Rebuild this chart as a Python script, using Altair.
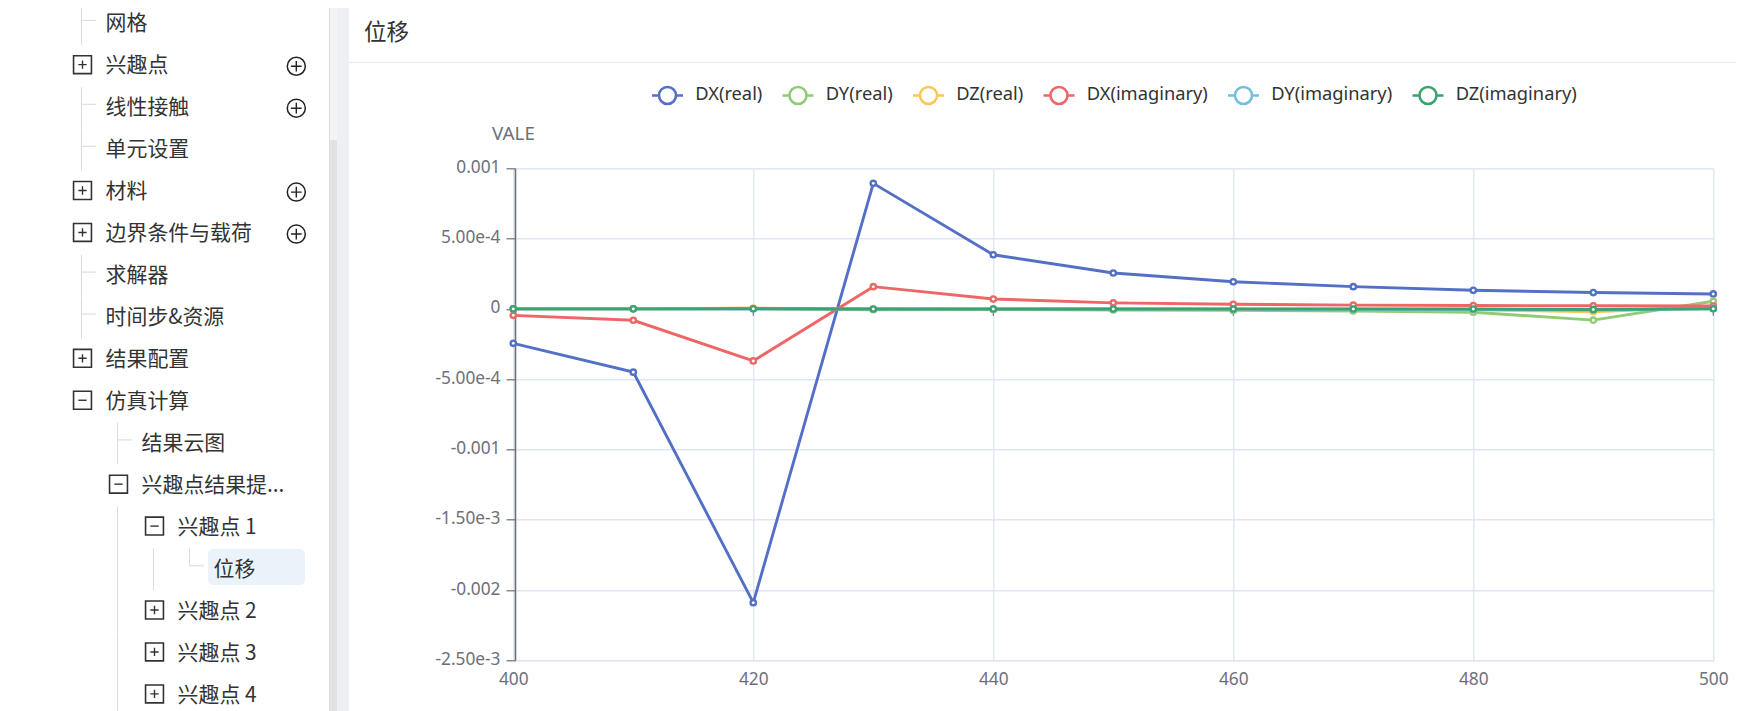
import altair as alt
import pandas as pd

# ---- chart values
freq = [400, 410, 420, 430, 440, 450, 460, 470, 480, 490, 500]
dx_real = [-2.45e-4, -4.5e-4, -2.09e-3, 8.93e-4, 3.85e-4, 2.55e-4, 1.93e-4, 1.58e-4, 1.32e-4, 1.16e-4, 1.06e-4]
dy_real = [0, 0, 2e-6, -6e-6, -5e-6, -8e-6, -1.1e-5, -1.5e-5, -2.4e-5, -8e-5, 5.4e-5]
dz_real = [0, 0, 6e-6, -3e-6, -2e-6, -2e-6, -3e-6, -4e-6, -6e-6, -2e-5, 1.5e-5]
dx_imag = [-4.6e-5, -8.1e-5, -3.7e-4, 1.58e-4, 7e-5, 4.3e-5, 3.3e-5, 2.7e-5, 2.4e-5, 2.2e-5, 2e-5]
dy_imag = [0, 0, 1e-6, -1e-6, -1e-6, -1e-6, -2e-6, -3e-6, -4e-6, -1e-5, 3e-6]
dz_imag = [0, 0, 1e-6, -1e-6, -1e-6, -1e-6, -1e-6, -1e-6, -1e-6, -4e-6, 1e-6]
series_names = ["DX(real)", "DY(real)", "DZ(real)", "DX(imaginary)", "DY(imaginary)", "DZ(imaginary)"]
series_values = [dx_real, dy_real, dz_real, dx_imag, dy_imag, dz_imag]
series_colors = ["#5470c6", "#91cc75", "#fac858", "#ee6666", "#73c0de", "#3ba272"]
x_ticks = [400, 420, 440, 460, 480, 500]
y_ticks = [0.001, 5e-4, 0, -5e-4, -0.001, -1.5e-3, -0.002, -2.5e-3]
y_labels = ["0.001", "5.00e-4", "0", "-5.00e-4", "-0.001", "-1.50e-3", "-0.002", "-2.50e-3"]

# ---- tree panel content
tree_labels = ["网格", "兴趣点", "线性接触", "单元设置", "材料", "边界条件与载荷", "求解器", "时间步&资源", "结果配置",
               "仿真计算", "结果云图", "兴趣点结果提...", "兴趣点 1", "位移", "兴趣点 2", "兴趣点 3", "兴趣点 4"]
tree_levels = [0, 0, 0, 0, 0, 0, 0, 0, 0, 0, 1, 1, 2, 3, 2, 2, 2]
plus_rows, plus_levels = [1, 4, 5, 8, 14, 15, 16], [0, 0, 0, 0, 2, 2, 2]
minus_rows, minus_levels = [9, 11, 12], [0, 1, 2]
add_rows = [1, 2, 4, 5]
guide_rows = [0, 2, 3, 6, 7, 10, 12, 13, 14, 15, 16, 13]
guide_levels = [0, 0, 0, 0, 0, 1, 1, 1, 1, 1, 1, 2]
branch_rows = [0, 2, 3, 6, 7, 10, 13]
branch_levels = [0, 0, 0, 0, 0, 1, 3]

# ---- layout
X0, Y0 = 513.3, 168.3
W, H = 1200, 492
ROW = "(22.7 + 41.95 * datum.row - %s)" % Y0

PLUS = "M-0.5,0H0.5M0,-0.5V0.5"
MINUS = "M-0.5,0H0.5"
RING = "M-1,0H-0.548M0.548,0H1M0.548,0A0.548,0.548 0 1 1 -0.548,0A0.548,0.548 0 1 1 0.548,0"

def tree(rows, levels, base):
    return (alt.Chart(pd.DataFrame({"row": rows, "level": levels}))
            .transform_calculate(py=ROW, px="%s + 36 * datum.level - %s" % (base, X0)))

PX = alt.X("px:Q", scale=None)
PY = alt.Y("py:Q", scale=None)

def band(x1, x2, y1, y2, color):
    return alt.Chart(pd.DataFrame({"k": [0]})).mark_rect(color=color).encode(
        x=alt.value(x1 - X0), x2=alt.value(x2 - X0), y=alt.value(y1 - Y0), y2=alt.value(y2 - Y0))

layers = [
    band(337, 349, 0, 711, "#eeeff3"),
    band(330, 337, 0, 140, "#f4f4f6"),
    band(330, 337, 140, 711, "#e2e2e2"),
    band(329, 330, 0, 711, "#dcdcdc"),
    band(0, 1744, 0, 2, "#eeeff3"),
    band(349, 1744, 62, 63, "#e9e9ee"),
    band(208, 305, 549, 585, "#ebf3fa").mark_rect(color="#ebf3fa", cornerRadius=5),
]

title = alt.Chart(pd.DataFrame({"t": ["位移"]})).mark_text(
    align="left", baseline="middle", font="Noto Sans CJK SC", fontSize=22.5, color="#333333").encode(
    text="t:N", x=alt.value(364 - X0), y=alt.value(33 - Y0))
layers.append(title)

# tree guides
guide = tree(guide_rows, guide_levels, 81.5).transform_calculate(py2=ROW + " + 22", py=ROW + " - 19.5")
layers.append(guide.mark_rule(color="#dcdcdc", strokeWidth=1.1).encode(x=PX, y=PY, y2="py2:Q"))
branch = tree(branch_rows, branch_levels, 81.5).transform_calculate(
    px2="datum.px + 14.5", py=ROW + " - 2.3")
layers.append(branch.mark_rule(color="#dcdcdc", strokeWidth=1.1).encode(x=PX, x2="px2:Q", y=PY))
last = tree([13], [3], 81.5).transform_calculate(py2=ROW + " - 2.3", py=ROW + " - 19.5")
layers.append(last.mark_rule(color="#dcdcdc", strokeWidth=1.1).encode(x=PX, y=PY, y2="py2:Q"))

# tree labels
labels_df = pd.DataFrame({"row": range(len(tree_labels)), "level": tree_levels, "label": tree_labels})
layers.append(alt.Chart(labels_df).transform_calculate(py=ROW + " + 1.6", px="105.6 + 36 * datum.level - %s" % X0)
              .mark_text(align="left", baseline="middle", font="Noto Sans CJK SC", fontSize=20.9, color="#333333")
              .encode(x=PX, y=PY, text="label:N"))

# expand / collapse boxes
for rows, levels, glyph in [(plus_rows, plus_levels, PLUS), (minus_rows, minus_levels, MINUS)]:
    layers.append(tree(rows, levels, 82.5).mark_point(shape="square", size=320, filled=False, color="#333333", strokeWidth=1.6, opacity=1)
                  .encode(x=PX, y=PY))
    layers.append(tree(rows, levels, 82.5).mark_point(shape=glyph, size=275, filled=False, color="#333333", strokeWidth=1.4, opacity=1)
                  .encode(x=PX, y=PY))

# add buttons
add = alt.Chart(pd.DataFrame({"row": add_rows})).transform_calculate(py=ROW + " + 1.6", px="296.3 - %s" % X0)
layers.append(add.mark_point(shape="circle", size=325, filled=False, color="#222222", strokeWidth=1.5, opacity=1).encode(x=PX, y=PY))
layers.append(add.mark_point(shape=PLUS, size=457, filled=False, color="#222222", strokeWidth=1.4, opacity=1).encode(x=PX, y=PY))

# ---- chart
axis_color = "#6e7079"
grid_color = "#e0e6f1"
FONT = "Noto Sans"
label_expr = "%s[round((0.001 - datum.value) / 0.0005)]" % str(y_labels)

X = alt.X("x:Q", scale=alt.Scale(domain=[400, 500], nice=False, zero=False),
          axis=alt.Axis(values=x_ticks, title=None, grid=True, gridColor=grid_color, gridWidth=1.4,
                        domainColor=grid_color, domainWidth=1.4, ticks=False, labelColor=axis_color,
                        labelFont=FONT, labelFontSize=17.3, labelPadding=10, labelFlush=False, format="d"))
Y = alt.Y("y:Q", scale=alt.Scale(domain=[-0.0025, 0.001], nice=False, zero=False),
          axis=alt.Axis(values=y_ticks, title="VALE", titleAngle=0, titleX=-2, titleY=-35, titleAlign="center",
                        titleBaseline="middle", titleColor=axis_color, titleFont=FONT, titleFontSize=18.8,
                        titleFontWeight="normal", grid=True, gridColor=grid_color, gridWidth=1.4,
                        domainColor=axis_color, domainWidth=1.6, tickColor=axis_color, tickSize=9, tickWidth=1.2,
                        labelColor=axis_color, labelFont=FONT, labelFontSize=17.3, labelPadding=6, labelOffset=-1,
                        labelFlush=False, labelOverlap=False, offset=-1.7, labelExpr=label_expr))

stroke_scale = alt.Scale(domain=series_names, range=series_colors)
legend = alt.Legend(title=None, orient="none", legendX=650.5 - X0, legendY=-90, direction="horizontal", columns=6,
                    symbolType=RING, symbolSize=961, symbolStrokeWidth=2.6, symbolFillColor="transparent",
                    symbolOpacity=1, labelFont=FONT, labelFontSize=18.3, labelColor="#333333", labelOffset=10.7,
                    columnPadding=14.5, labelLimit=300)

ticks_df = pd.DataFrame({"x": x_ticks})
layers.append(alt.Chart(ticks_df).mark_rule(color=axis_color, strokeWidth=1.2).encode(
    x=X, y=alt.datum(0, scale=alt.Scale(domain=[-0.0025, 0.001], nice=False, zero=False)), y2=alt.value(147.4)))

for name, vals in zip(series_names, series_values):
    df = pd.DataFrame({"x": freq, "y": vals, "series": name})
    base = alt.Chart(df).encode(x=X, y=Y, stroke=alt.Stroke("series:N", scale=stroke_scale, legend=legend))
    layers.append(base.mark_line(strokeWidth=2.9))
    layers.append(base.mark_point(shape="circle", size=28, filled=True, fill="white", strokeWidth=2.4, opacity=1))

chart = alt.layer(*layers).properties(
    width=W, height=H,
    autosize=alt.AutoSizeParams(type="none"),
    padding={"left": X0 - 8, "top": Y0 - 8, "right": 1728 - (X0 - 8) - W, "bottom": 703 - (Y0 - 8) - H},
).configure_view(strokeWidth=0)

chart.save("out.html", embed_options={"renderer": "svg", "actions": False})
